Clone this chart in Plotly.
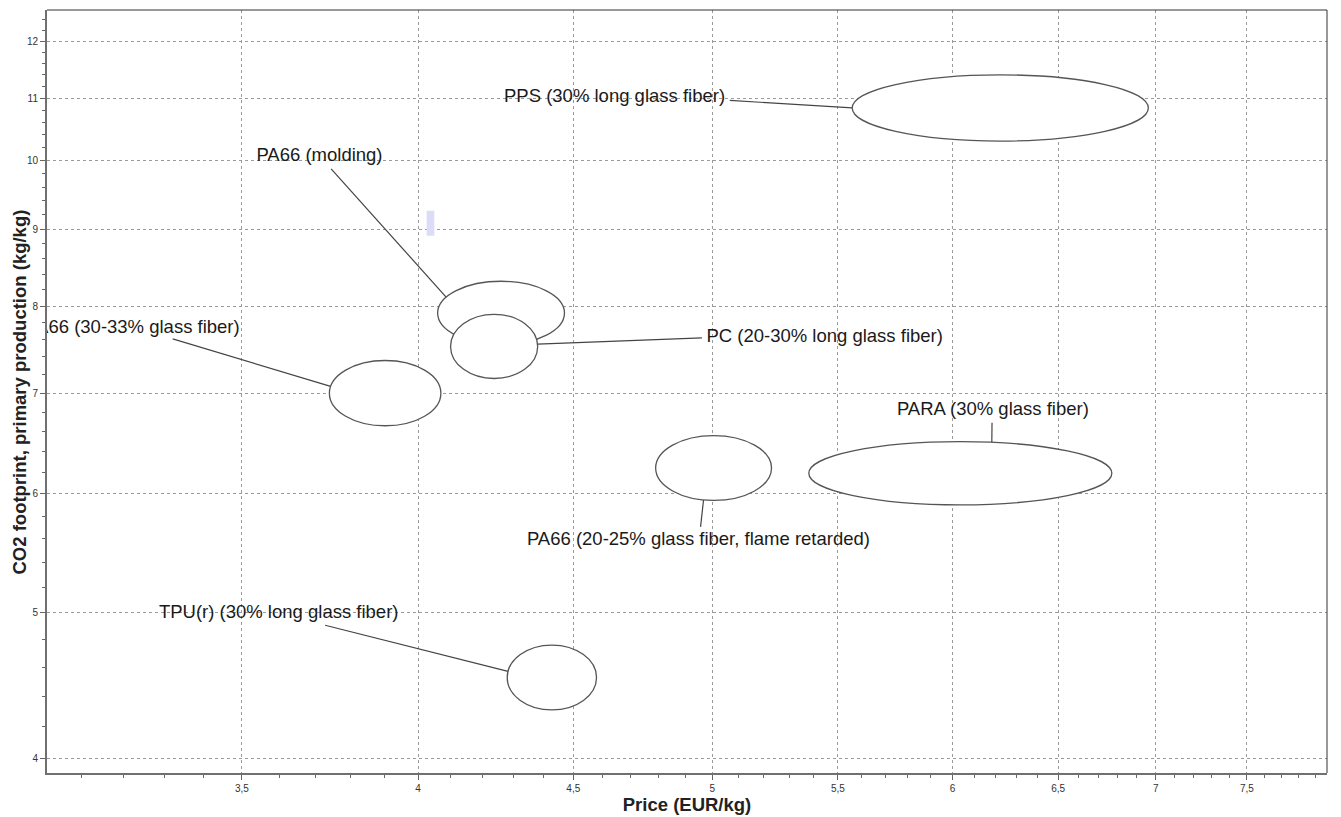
import numpy as np
import plotly.graph_objects as go

# ---------------- data ----------------
materials = [
    "PPS (30% long glass fiber)",
    "PA66 (molding)",
    "PC (20-30% long glass fiber)",
    "PA66 (30-33% glass fiber)",
    "PA66 (20-25% glass fiber, flame retarded)",
    "PARA (30% glass fiber)",
    "TPU(r) (30% long glass fiber)",
]
price_low = [5.56, 4.06, 4.10, 3.74, 4.79, 5.38, 4.28]
price_high = [6.96, 4.47, 4.38, 4.07, 5.23, 6.77, 4.58]
co2_low = [10.30, 7.54, 7.16, 6.66, 5.94, 5.90, 4.31]
co2_high = [11.40, 8.31, 7.90, 7.36, 6.56, 6.50, 4.76]

x_tickvals = [3.5, 4, 4.5, 5, 5.5, 6, 6.5, 7, 7.5]
x_ticktext = ["3,5", "4", "4,5", "5", "5,5", "6", "6,5", "7", "7,5"]
y_tickvals = [4, 5, 6, 7, 8, 9, 10, 11, 12]
y_ticktext = ["4", "5", "6", "7", "8", "9", "10", "11", "12"]

# ---------------- label layout (style) ----------------
label_pos = [(4.643, 11.007), (3.712, 10.055), (5.445, 7.631), (3.221, 7.737),
             (4.948, 5.584), (6.186, 6.822), (3.599, 4.996)]
leader_tail = [(5.067, 10.962), (3.745, 9.872), (4.961, 7.619), (3.321, 7.608),
               (4.956, 5.705), (6.182, 6.691), (3.728, 4.907)]
leader_angle = [180, 150, 4, 168, 260, 78, 169]

FONT = "Liberation Sans, Arial, sans-serif"
ELL_COLOR = "#555555"
LINE_COLOR = "#444444"

fig = go.Figure()

# leader lines
for i in range(len(materials)):
    lx0, lx1 = np.log10(price_low[i]), np.log10(price_high[i])
    ly0, ly1 = np.log10(co2_low[i]), np.log10(co2_high[i])
    cx, cy = (lx0 + lx1) / 2, (ly0 + ly1) / 2
    a, b = (lx1 - lx0) / 2, (ly1 - ly0) / 2
    t = np.deg2rad(leader_angle[i])
    hx = 10 ** (cx + a * np.cos(t))
    hy = 10 ** (cy + b * np.sin(t))
    fig.add_trace(go.Scatter(
        x=[leader_tail[i][0], hx], y=[leader_tail[i][1], hy],
        mode="lines", line=dict(color=LINE_COLOR, width=1.2),
        hoverinfo="skip", showlegend=False))

# labels (clipped to the plot area like the reference)
fig.add_trace(go.Scatter(
    x=[p[0] for p in label_pos], y=[p[1] for p in label_pos],
    text=materials, mode="text", textposition="middle center",
    textfont=dict(family=FONT, size=18.5, color="#1a1a1a"),
    cliponaxis=True, hoverinfo="skip", showlegend=False))

# ellipses (price range x CO2 range)
shapes = []
for i in range(len(materials)):
    shapes.append(dict(
        type="circle", xref="x", yref="y",
        x0=price_low[i], x1=price_high[i], y0=co2_low[i], y1=co2_high[i],
        line=dict(color=ELL_COLOR, width=1.3), fillcolor="white", layer="above"))

# frame top / right
shapes.append(dict(type="line", xref="paper", yref="paper", x0=0, x1=1, y0=1, y1=1,
                   line=dict(color="#333333", width=1)))
shapes.append(dict(type="line", xref="paper", yref="paper", x0=1, x1=1, y0=0, y1=1,
                   line=dict(color="#333333", width=1)))
# small lavender artefact seen in the reference
shapes.append(dict(type="rect", xref="paper", yref="paper", x0=0.2966, x1=0.3026,
                   y0=0.7042, y1=0.7369, line=dict(width=0), fillcolor="#dcdcf8"))

x_minor = [round(v, 1) for v in np.arange(3.1, 8.0, 0.1) if round(v * 2, 3) % 1 != 0]
y_minor = [round(v, 1) for v in np.arange(4.0, 12.6, 0.2) if abs(v - round(v)) > 1e-6]

fig.update_layout(
    width=1333, height=809,
    margin=dict(l=39, r=14, t=2, b=44),
    paper_bgcolor="white", plot_bgcolor="white",
    showlegend=False,
    shapes=shapes,
    font=dict(family=FONT, color="#333333"),
    annotations=[dict(
        text="<b>CO2 footprint, primary production (kg/kg)</b>",
        xref="paper", yref="paper", x=-0.0211, y=0.5,
        xanchor="center", yanchor="middle", textangle=-90, showarrow=False,
        font=dict(size=18.5, color="#222222", family=FONT))],
    xaxis=dict(
        type="log",
        range=[np.log10(3.019), np.log10(7.97)],
        tickvals=x_tickvals, ticktext=x_ticktext,
        tickfont=dict(size=10, color="#333333"),
        ticks="outside", ticklen=5, tickcolor="#666666", tickwidth=1,
        showline=True, linecolor="#707070", linewidth=2,
        showgrid=True, gridcolor="#9a9a9a", gridwidth=1, griddash="3px,3px",
        zeroline=False, automargin=False,
        minor=dict(tickvals=x_minor, ticks="outside", ticklen=3,
                   tickcolor="#666666", showgrid=False),
        title=dict(text="<b>Price (EUR/kg)</b>", standoff=4,
                   font=dict(size=18.5, color="#222222", family=FONT)),
    ),
    yaxis=dict(
        type="log",
        range=[np.log10(3.913), np.log10(12.59)],
        tickvals=y_tickvals, ticktext=y_ticktext,
        tickfont=dict(size=10, color="#333333"),
        ticks="outside", ticklen=5, tickcolor="#666666", tickwidth=1,
        showline=True, linecolor="#707070", linewidth=2,
        showgrid=True, gridcolor="#9a9a9a", gridwidth=1, griddash="3px,3px",
        zeroline=False, automargin=False,
        minor=dict(tickvals=y_minor, ticks="outside", ticklen=3,
                   tickcolor="#666666", showgrid=False),
    ),
)

fig.write_html("out.html")
